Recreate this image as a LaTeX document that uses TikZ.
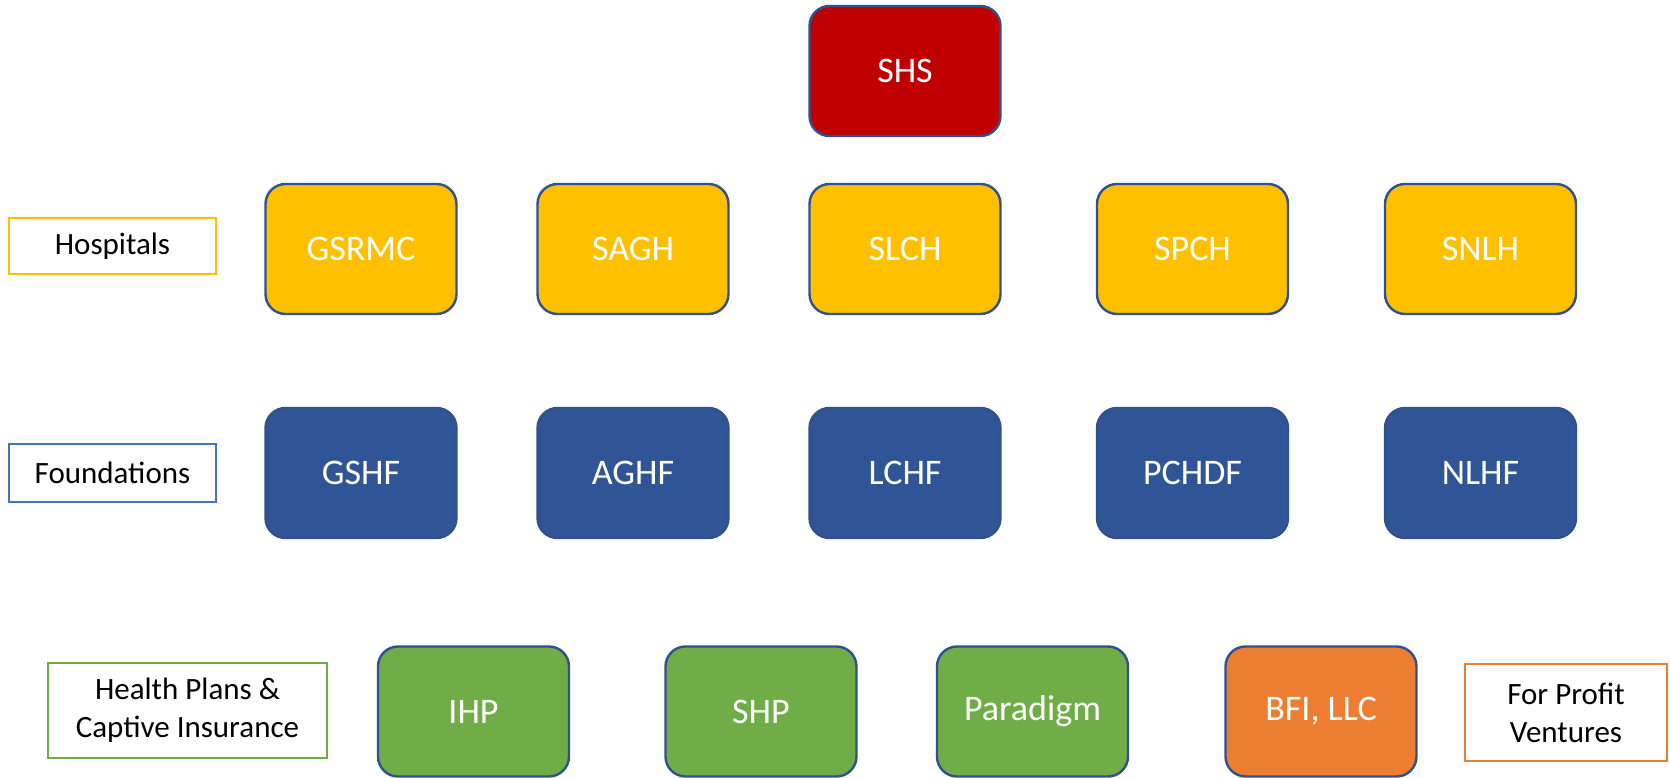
\documentclass[tikz,border=0pt]{standalone}
\usepackage{fontspec}
\setmainfont{Carlito}
\definecolor{shsred}{HTML}{C00000}
\definecolor{hospyellow}{HTML}{FFC000}
\definecolor{foundblue}{HTML}{2F5597}
\definecolor{plangreen}{HTML}{70AD47}
\definecolor{profitorange}{HTML}{ED7D31}
\definecolor{edgeblue}{HTML}{2F528F}
\definecolor{labelblue}{HTML}{4472C4}
\begin{document}
\begin{tikzpicture}[x=1pt,y=-1pt,
  entity/.style={draw=edgeblue, line width=2.4pt, rounded corners=20pt,
    minimum width=191pt, minimum height=130pt, inner sep=0pt,
    text=white, font=\fontsize{36}{44}\selectfont},
  catlabel/.style={draw, line width=2pt, fill=white, inner sep=0pt, align=center,
    text=black, font=\fontsize{31}{38}\selectfont}]
\useasboundingbox (0,0) rectangle (1670,778);
% top
\node[entity, fill=shsred] (shs) at (905,71) {SHS};
% hospitals
\node[entity, fill=hospyellow] (gsrmc) at (361,249) {GSRMC};
\node[entity, fill=hospyellow] (sagh) at (633,249) {SAGH};
\node[entity, fill=hospyellow] (slch) at (905,249) {SLCH};
\node[entity, fill=hospyellow] (spch) at (1192.5,249) {SPCH};
\node[entity, fill=hospyellow] (snlh) at (1480.5,249) {SNLH};
% foundations
\node[entity, fill=foundblue] (gshf) at (361,473) {GSHF};
\node[entity, fill=foundblue] (aghf) at (633,473) {AGHF};
\node[entity, fill=foundblue] (lchf) at (905,473) {LCHF};
\node[entity, fill=foundblue] (pchdf) at (1192.5,473) {PCHDF};
\node[entity, fill=foundblue] (nlhf) at (1480.5,473) {NLHF};
% plans and ventures
\node[entity, fill=plangreen] (ihp) at (473.5,711.5) {IHP};
\node[entity, fill=plangreen] (shp) at (761,711.5) {SHP};
\node[entity, fill=plangreen] (paradigm) at (1032.5,711.5) {Paradigm};
\node[entity, fill=profitorange] (bfi) at (1321,711.5) {BFI, LLC};
% category labels
\node[catlabel, draw=hospyellow, minimum width=207pt, minimum height=56pt] (lhosp) at (112.5,246) {Hospitals};
\node[catlabel, draw=labelblue, minimum width=207pt, minimum height=58pt] (lfound) at (112.5,473) {Foundations};
\node[catlabel, draw=plangreen, minimum width=279pt, minimum height=95pt] (lplans) at (187.5,710.5) {Health Plans \&\\Captive Insurance};
\node[catlabel, draw=profitorange, minimum width=202pt, minimum height=97pt] (lprofit) at (1566,712.5) {For Profit\\Ventures};
\end{tikzpicture}
\end{document}
